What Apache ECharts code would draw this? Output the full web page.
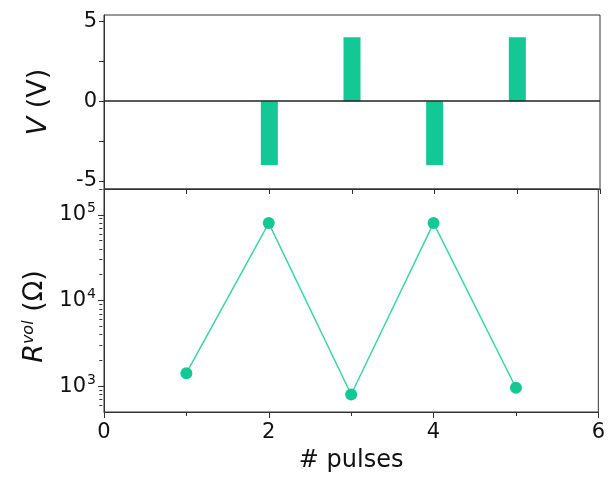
<!DOCTYPE html>
<html>
<head>
<meta charset="utf-8">
<script src="https://cdn.jsdelivr.net/npm/echarts@6/dist/echarts.min.js"></script>
<style>
  html, body { margin: 0; padding: 0; background: #fff; }
  #main { width: 608px; height: 487px; }
</style>
</head>
<body>
<div id="main"></div>
<script>
// 脉冲电压（上图）
var pulseNo = [2, 3, 4, 5];
var pulseVolt = [-4, 4, -4, 4];
// 电阻（下图，对数坐标）
var readNo = [1, 2, 3, 4, 5];
var readRes = [1420, 80000, 800, 80000, 960];
// 刻度
var voltLabels = [-5, 0, 5];
var voltTicks = [-5, -2.5, 0, 2.5, 5];
var resLabels = [1000, 10000, 100000];
var resMinor = [600, 700, 800, 900,
  2000, 3000, 4000, 5000, 6000, 7000, 8000, 9000,
  20000, 30000, 40000, 50000, 60000, 70000, 80000, 90000, 200000];

var myChart = echarts.init(document.getElementById('main'));
var green = '#14c896';
var axisColor = '#333';
var fontName = 'DejaVu Sans, Liberation Sans, sans-serif';
var plotLeft = 104, plotRight = 8;
var plotWidth = 608 - plotLeft - plotRight;

function pairs (xs, ys) {
  var out = [];
  for (var i = 0; i < xs.length; i++) {
    out.push([xs[i], ys[i]]);
  }
  return out;
}

var option = {
  animation: false,
  textStyle: { fontFamily: fontName, color: '#111' },
  grid: [
    { left: plotLeft, right: plotRight, top: 15, height: 174, show: true, borderColor: axisColor, borderWidth: 1, backgroundColor: 'transparent' },
    { left: plotLeft, right: plotRight, top: 189, height: 223, show: true, borderColor: axisColor, borderWidth: 1, backgroundColor: 'transparent' }
  ],
  xAxis: [
    {
      type: 'value', gridIndex: 0, min: 0, max: 6, interval: 1,
      axisLine: { onZero: false, lineStyle: { color: axisColor } },
      axisTick: { length: 5, lineStyle: { color: axisColor } },
      axisLabel: { show: false },
      splitLine: { show: false }
    },
    {
      type: 'value', gridIndex: 1, min: 0, max: 6, interval: 2,
      name: '# pulses', nameLocation: 'middle', nameGap: 37,
      nameTextStyle: { fontSize: 24, color: '#111' },
      axisLine: { onZero: false, lineStyle: { color: axisColor } },
      axisTick: { length: 6, lineStyle: { color: axisColor } },
      minorTick: { show: true, splitNumber: 2, length: 4, lineStyle: { color: axisColor } },
      axisLabel: { fontSize: 21, margin: 10, color: '#111' },
      splitLine: { show: false }
    }
  ],
  yAxis: [
    {
      type: 'value', gridIndex: 0, min: -5.5, max: 5.4,
      name: '{i|V} (V)', nameLocation: 'middle', nameGap: 52,
      nameTextStyle: { fontSize: 27, color: '#111', rich: { i: { fontSize: 27, fontStyle: 'italic', color: '#111' } } },
      axisLine: { lineStyle: { color: axisColor } },
      axisTick: { length: 5, customValues: voltTicks, lineStyle: { color: axisColor } },
      axisLabel: { fontSize: 21, margin: 7, color: '#111', customValues: voltLabels },
      splitLine: { show: false }
    },
    {
      type: 'log', logBase: 10, gridIndex: 1, min: 500, max: 200000, position: 'left',
      name: '{i|R}{s|vol} (Ω)', nameLocation: 'middle', nameGap: 56,
      nameTextStyle: {
        fontSize: 27, color: '#111', padding: [0, 32, 0, 0],
        rich: {
          i: { fontSize: 27, fontStyle: 'italic', color: '#111' },
          s: { fontSize: 16, fontStyle: 'italic', color: '#111', verticalAlign: 'top' }
        }
      },
      axisLine: { lineStyle: { color: axisColor } },
      axisTick: { length: 6, customValues: resLabels, lineStyle: { color: axisColor } },
      axisLabel: {
        fontSize: 21, margin: 8, color: '#111', customValues: resLabels,
        formatter: function (val) {
          return '10{s|' + Math.round(Math.log(val) / Math.LN10) + '}';
        },
        rich: { s: { fontSize: 14, color: '#111', verticalAlign: 'top', padding: [0, 0, 12, 1] } }
      },
      splitLine: { show: false }
    },
    {
      // 对数次刻度：放在右侧再平移回左边框
      type: 'log', logBase: 10, gridIndex: 1, min: 500, max: 200000,
      position: 'right', offset: -plotWidth,
      axisLine: { show: false },
      axisTick: { inside: true, length: 3, customValues: resMinor, lineStyle: { color: axisColor } },
      axisLabel: { show: false },
      splitLine: { show: false }
    }
  ],
  series: [
    {
      type: 'bar', xAxisIndex: 0, yAxisIndex: 0,
      data: pairs(pulseNo, pulseVolt),
      barWidth: 17,
      itemStyle: { color: green },
      markLine: {
        silent: true, symbol: 'none', label: { show: false },
        lineStyle: { color: '#222', width: 1.5, type: 'solid' },
        data: [{ yAxis: 0 }]
      }
    },
    {
      type: 'line', xAxisIndex: 1, yAxisIndex: 1,
      data: pairs(readNo, readRes),
      symbol: 'circle', symbolSize: 12,
      itemStyle: { color: green },
      lineStyle: { color: '#3dd4a8', width: 1.5 }
    }
  ]
};

myChart.setOption(option);
</script>
</body>
</html>
